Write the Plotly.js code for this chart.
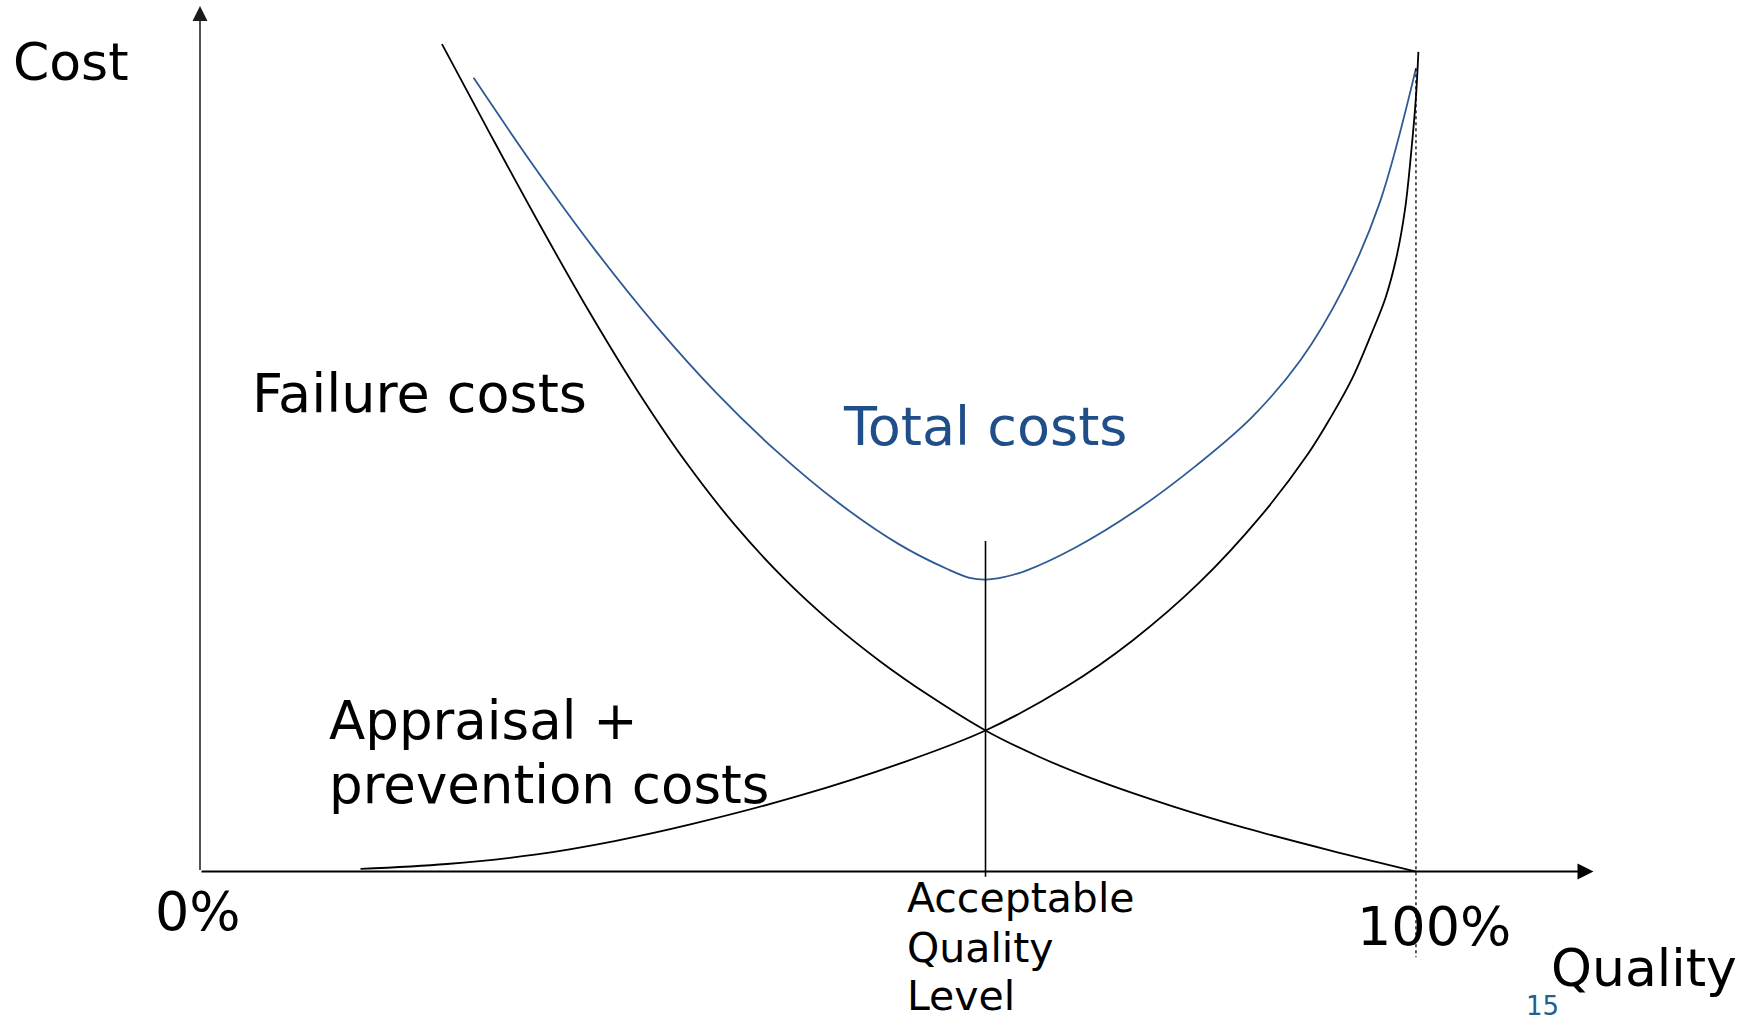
<!DOCTYPE html>
<html>
<head>
<meta charset="utf-8">
<script src="https://cdn.plot.ly/plotly-3.0.1.min.js"></script>
<style>
html,body{margin:0;padding:0;background:#ffffff;overflow:hidden;}
#chart{width:1753px;height:1022px;}
</style>
</head>
<body>
<div id="chart"></div>
<script>
// ---- Data (quality in %, cost in arbitrary units) ----
const failureQuality = [19.9, 24, 28, 32, 36, 40, 44, 48, 52, 56, 60, 64.6, 69, 74, 80, 86, 93, 100];
const failureCost    = [95.6, 84.86, 74.58, 64.7, 55.5, 47.22, 40.02, 33.9, 28.7, 24.22, 20.3, 16.3, 13.26, 10.41, 7.53, 5.01, 2.42, 0];

const appraisalQuality = [13.2, 20.3, 27.7, 34.1, 40.5, 49.3, 57.6, 64.6, 71.3, 76.7, 82.2, 87.2, 91.1, 93.0, 94.8, 96.3, 97.5, 98.4, 99.1, 99.6, 100.0, 100.2];
const appraisalCost    = [0.3, 0.87, 1.98, 3.52, 5.5, 8.76, 12.5, 16.3, 21.4, 26.7, 33.4, 41.0, 48.2, 52.5, 57.1, 62.0, 66.3, 71.0, 76.5, 83.0, 89.5, 94.7];

const totalQuality = [22.5, 27.5, 32.5, 37.5, 42.5, 47.5, 52.5, 57.5, 61.5, 63.3, 64.6, 66.0, 68.0, 72.0, 77.0, 82.0, 86.5, 90.5, 94.0, 97.0, 100];
const totalCost    = [91.7, 81.4, 71.8, 63.05, 55.25, 48.45, 42.6, 37.8, 34.92, 33.93, 33.73, 33.98, 34.8, 37.44, 41.74, 46.99, 52.48, 59.08, 67.3, 77.2, 92.8];

const aqlQuality = [64.6, 64.6];
const aqlCost    = [38.2, -0.6];

const fullQuality = [100, 100];
const fullCost    = [92.8, -9.9];

const axisMaxQuality = 114.6;
const axisMaxCost = 100;

const labels = {
  yTitle: "Cost",
  xTitle: "Quality",
  failure: "Failure costs",
  total: "Total costs",
  appraisal1: "Appraisal +",
  appraisal2: "prevention costs",
  zero: "0%",
  hundred: "100%",
  aql: ["Acceptable", "Quality", "Level"],
  page: "15"
};

// ---- Styling ----
const FONT = "DejaVu Sans, Verdana, sans-serif";
const BLACK = "#000000";
const BLUE_LINE = "#2D5A94";
const BLUE_TEXT = "#1F4E89";

const traces = [
  {x: failureQuality, y: failureCost, mode: "lines", line: {color: BLACK, width: 1.8, shape: "spline", smoothing: 1}},
  {x: appraisalQuality, y: appraisalCost, mode: "lines", line: {color: BLACK, width: 1.8, shape: "spline", smoothing: 1}},
  {x: totalQuality, y: totalCost, mode: "lines", line: {color: BLUE_LINE, width: 1.8, shape: "spline", smoothing: 1}},
  {x: aqlQuality, y: aqlCost, mode: "lines", line: {color: BLACK, width: 1.6}},
  {x: fullQuality, y: fullCost, mode: "lines", line: {color: BLACK, width: 1.3, dash: "dot"}}
];

function txt(text, x, y, size, color) {
  return {
    text: text, x: x, y: y, xref: "paper", yref: "paper",
    xanchor: "left", yanchor: "middle", showarrow: false,
    font: {family: FONT, size: size, color: color || BLACK}
  };
}

const annotations = [
  // axes with arrowheads
  {x: 0, y: axisMaxCost, ax: 0, ay: 0, xref: "x", yref: "y", axref: "x", ayref: "y",
   showarrow: true, arrowhead: 2, arrowsize: 2, arrowwidth: 1.5, arrowcolor: "#1a1a1a", text: ""},
  {x: axisMaxQuality, y: 0, ax: 0, ay: 0, xref: "x", yref: "y", axref: "x", ayref: "y",
   showarrow: true, arrowhead: 2, arrowsize: 1.6, arrowwidth: 2, arrowcolor: BLACK, text: ""},
  // labels
  txt(labels.yTitle, -0.115, 0.9383, 52),
  txt(labels.failure, 0.0515, 0.5944, 54),
  txt(labels.total, 0.4634, 0.5612, 54, BLUE_TEXT),
  txt(labels.appraisal1, 0.1052, 0.2552, 53),
  txt(labels.appraisal2, 0.1052, 0.1898, 53),
  txt(labels.zero, -0.016, 0.0571, 54),
  txt(labels.aql[0], 0.5080, 0.0716, 41),
  txt(labels.aql[1], 0.5080, 0.0197, 41),
  txt(labels.aql[2], 0.5080, -0.0301, 41),
  txt(labels.hundred, 0.8216, 0.0425, 54),
  txt(labels.xTitle, 0.9568, -0.001, 52),
  txt(labels.page, 0.9394, -0.0405, 26, "#215F8E")
];

const layout = {
  width: 1753,
  height: 1022,
  margin: {l: 176, r: 142, t: 3, b: 55, pad: 0},
  paper_bgcolor: "#ffffff",
  plot_bgcolor: "#ffffff",
  showlegend: false,
  hovermode: false,
  xaxis: {range: [-1.974, 116.04], visible: false, showgrid: false, zeroline: false, fixedrange: true},
  yaxis: {range: [-11.03, 100.35], visible: false, showgrid: false, zeroline: false, fixedrange: true},
  annotations: annotations
};

Plotly.newPlot("chart", traces, layout, {displayModeBar: false, staticPlot: true});
</script>
</body>
</html>
